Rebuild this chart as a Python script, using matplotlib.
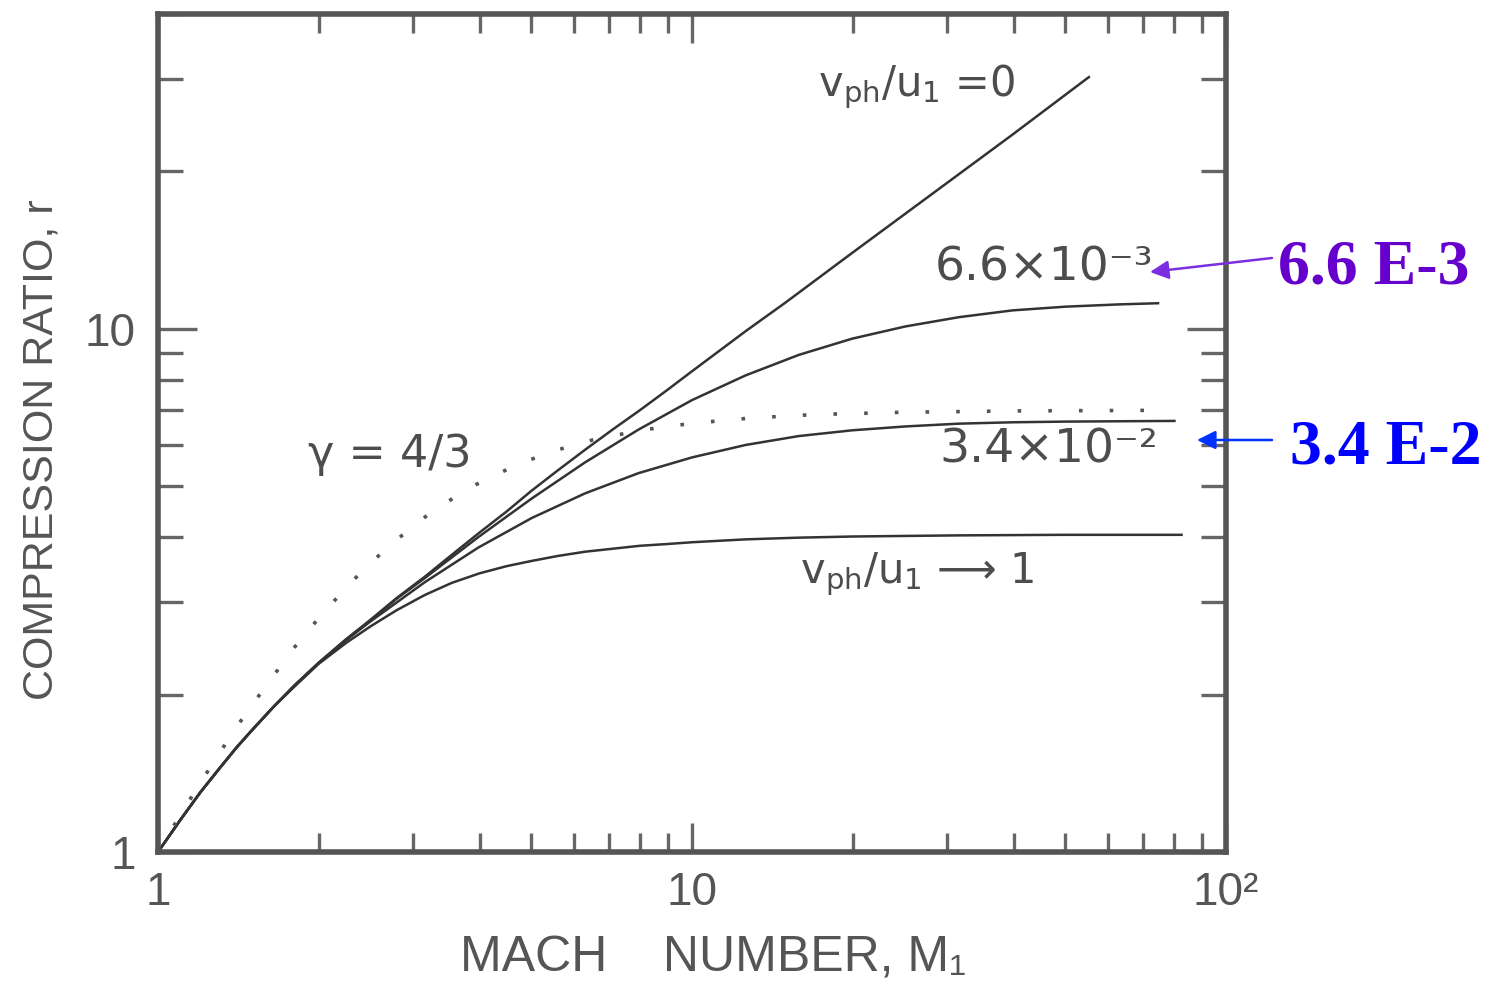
import matplotlib
matplotlib.use("Agg")
import matplotlib.pyplot as plt
from matplotlib.ticker import FixedLocator, LogLocator, NullFormatter

# compression ratio r versus upstream Mach number M1, one curve per v_ph/u_1
mach_0 = [1, 1.1, 1.2, 1.3, 1.4, 1.5, 1.65, 1.8, 2, 2.25, 2.5, 2.8, 3.16, 3.55, 4, 4.5,
          5, 5.6, 6.3, 7.1, 8, 9, 10, 12.6, 15, 20, 30, 40, 55.6]
ratio_0 = [1, 1.15, 1.30, 1.44, 1.58, 1.71, 1.90, 2.08, 2.30, 2.55, 2.78, 3.06, 3.36, 3.70,
           4.08, 4.48, 4.90, 5.36, 5.87, 6.42, 7.0, 7.65, 8.3, 9.9, 11.25, 14.0, 19.0, 23.6, 30.4]

mach_66e3 = [1, 1.1, 1.2, 1.3, 1.4, 1.5, 1.65, 1.8, 2, 2.25, 2.5, 2.8, 3.16, 3.98, 5.01,
             6.31, 7.94, 10, 12.6, 15.85, 19.95, 25.1, 31.6, 39.8, 50.1, 63.1, 75]
ratio_66e3 = [1, 1.15, 1.30, 1.44, 1.58, 1.71, 1.90, 2.08, 2.30, 2.55, 2.77, 3.05, 3.34, 4.0,
              4.74, 5.56, 6.42, 7.31, 8.15, 8.92, 9.58, 10.11, 10.53, 10.85, 11.03, 11.14, 11.2]

mach_34e2 = [1, 1.1, 1.2, 1.3, 1.4, 1.5, 1.65, 1.8, 2, 2.25, 2.5, 2.8, 3.16, 3.98, 5.01,
             6.31, 7.94, 10, 12.6, 15.85, 19.95, 25.1, 31.6, 39.8, 50.1, 63.1, 80.5]
ratio_34e2 = [1, 1.15, 1.30, 1.44, 1.58, 1.71, 1.90, 2.08, 2.30, 2.54, 2.76, 3.0, 3.28, 3.82,
              4.35, 4.85, 5.30, 5.68, 6.0, 6.24, 6.40, 6.51, 6.59, 6.63, 6.65, 6.66, 6.67]

mach_1 = [1, 1.1, 1.2, 1.3, 1.4, 1.5, 1.65, 1.8, 2, 2.25, 2.5, 2.8, 3.16, 3.55, 4, 4.5,
          5, 5.6, 6.3, 7.1, 8, 9, 10, 12.6, 15.85, 20, 25, 31.6, 50, 83]
ratio_1 = [1, 1.15, 1.30, 1.44, 1.58, 1.71, 1.90, 2.07, 2.29, 2.51, 2.70, 2.90, 3.10, 3.27,
           3.41, 3.52, 3.60, 3.68, 3.75, 3.80, 3.85, 3.88, 3.91, 3.96, 3.99, 4.01, 4.02,
           4.03, 4.04, 4.04]

# gas with gamma = 4/3, no waves
mach_g43 = [1, 1.1, 1.2, 1.3, 1.45, 1.6, 1.8, 2, 2.3, 2.7, 3.2, 3.8, 4.7, 5.5, 6.5, 8, 10,
            13, 17, 25, 40, 78]
ratio_g43 = [1, 1.175, 1.355, 1.54, 1.82, 2.09, 2.46, 2.8, 3.28, 3.84, 4.41, 4.95, 5.5, 5.84,
             6.13, 6.4, 6.6, 6.76, 6.86, 6.93, 6.97, 6.99]

W, H = 1490, 981
fig = plt.figure(figsize=(W / 100, H / 100), dpi=100)
ax = fig.add_axes([158 / W, (H - 852) / H, (1226 - 158) / W, (852 - 14) / H])

line_kw = dict(color="#333333", lw=1.8, solid_capstyle="butt", solid_joinstyle="round")
ax.plot(mach_0, ratio_0, **line_kw)
ax.plot(mach_66e3, ratio_66e3, **line_kw)
ax.plot(mach_34e2, ratio_34e2, **line_kw)
ax.plot(mach_1, ratio_1, **line_kw)
ax.plot(mach_g43, ratio_g43, color="#555555", lw=2.6, linestyle=(0, (1, 7.5)))

ax.set_xscale("log")
ax.set_yscale("log")
ax.set_xlim(1, 100)
ax.set_ylim(1, 40)

ax.xaxis.set_major_locator(FixedLocator([1, 10, 100]))
ax.xaxis.set_minor_locator(LogLocator(base=10, subs=range(2, 10)))
ax.xaxis.set_minor_formatter(NullFormatter())
ax.set_xticklabels(["1", "10", "10²"])
ax.yaxis.set_major_locator(FixedLocator([1, 10]))
ax.yaxis.set_minor_locator(LogLocator(base=10, subs=range(2, 10)))
ax.yaxis.set_minor_formatter(NullFormatter())
ax.set_yticklabels(["1", "10"])

sans = ["Liberation Sans", "DejaVu Sans"]
for lab in ax.get_xticklabels() + ax.get_yticklabels():
    lab.set_fontfamily(sans)
    lab.set_fontsize(33)
    lab.set_color("#555555")

ax.tick_params(axis="both", which="both", direction="in", top=True, right=True,
               color="#666666", width=2.4)
ax.tick_params(axis="x", which="major", length=21, pad=14)
ax.tick_params(axis="x", which="minor", length=14)
ax.tick_params(axis="y", which="major", length=28, pad=16)
ax.tick_params(axis="y", which="minor", length=18)

for sp in ax.spines.values():
    sp.set_linewidth(4)
    sp.set_color("#555555")

ax.set_xlabel("MACH    NUMBER, M₁", fontsize=36, color="#555555", family=sans)
ax.xaxis.set_label_coords((713 - 158) / 1068, -(936 - 852) / 838)
ax.xaxis.label.set_va("top")
ax.set_ylabel("COMPRESSION RATIO, r", fontsize=31, color="#555555", family=sans)
ax.yaxis.set_label_coords(-(158 - 42) / 1068, (852 - 450) / 838)
ax.yaxis.label.set_va("center")

# curve labels
lab_kw = dict(color="#4d4d4d", family=["DejaVu Sans"], va="center", ha="left")
ax.text(17.2, 29.1, "$\\mathregular{v_{ph}/u_1}$ =0", fontsize=30, **lab_kw)
ax.text(28.5, 13.1, "6.6×10⁻³", fontsize=34, **lab_kw)
ax.text(29.1, 5.86, "3.4×10⁻²", fontsize=34, **lab_kw)
ax.text(1.91, 5.76, "γ = 4/3", fontsize=32, **lab_kw)
ax.text(15.9, 3.4, "$\\mathregular{v_{ph}/u_1}$ ⟶ 1", fontsize=30, **lab_kw)

# coloured call-outs to the right of the frame
fig.text(1278 / W, 1 - 268 / H, "6.6 E-3", color="#6600CC", fontsize=46,
         fontweight="bold", family=["Liberation Serif"], va="center", ha="left")
fig.text(1290 / W, 1 - 448 / H, "3.4 E-2", color="#0000FF", fontsize=46,
         fontweight="bold", family=["Liberation Serif"], va="center", ha="left")
ax.annotate("", xy=(1150, H - 272), xycoords="figure pixels",
            xytext=(1272, H - 258), textcoords="figure pixels",
            arrowprops=dict(arrowstyle="-|>", color="#7B2FE0", lw=1.8,
                            mutation_scale=28, shrinkA=0, shrinkB=0),
            annotation_clip=False)
ax.annotate("", xy=(1197, H - 440), xycoords="figure pixels",
            xytext=(1272, H - 440), textcoords="figure pixels",
            arrowprops=dict(arrowstyle="-|>", color="#0033FF", lw=1.8,
                            mutation_scale=28, shrinkA=0, shrinkB=0),
            annotation_clip=False)

fig.savefig("out.png", dpi=100, facecolor="white")
